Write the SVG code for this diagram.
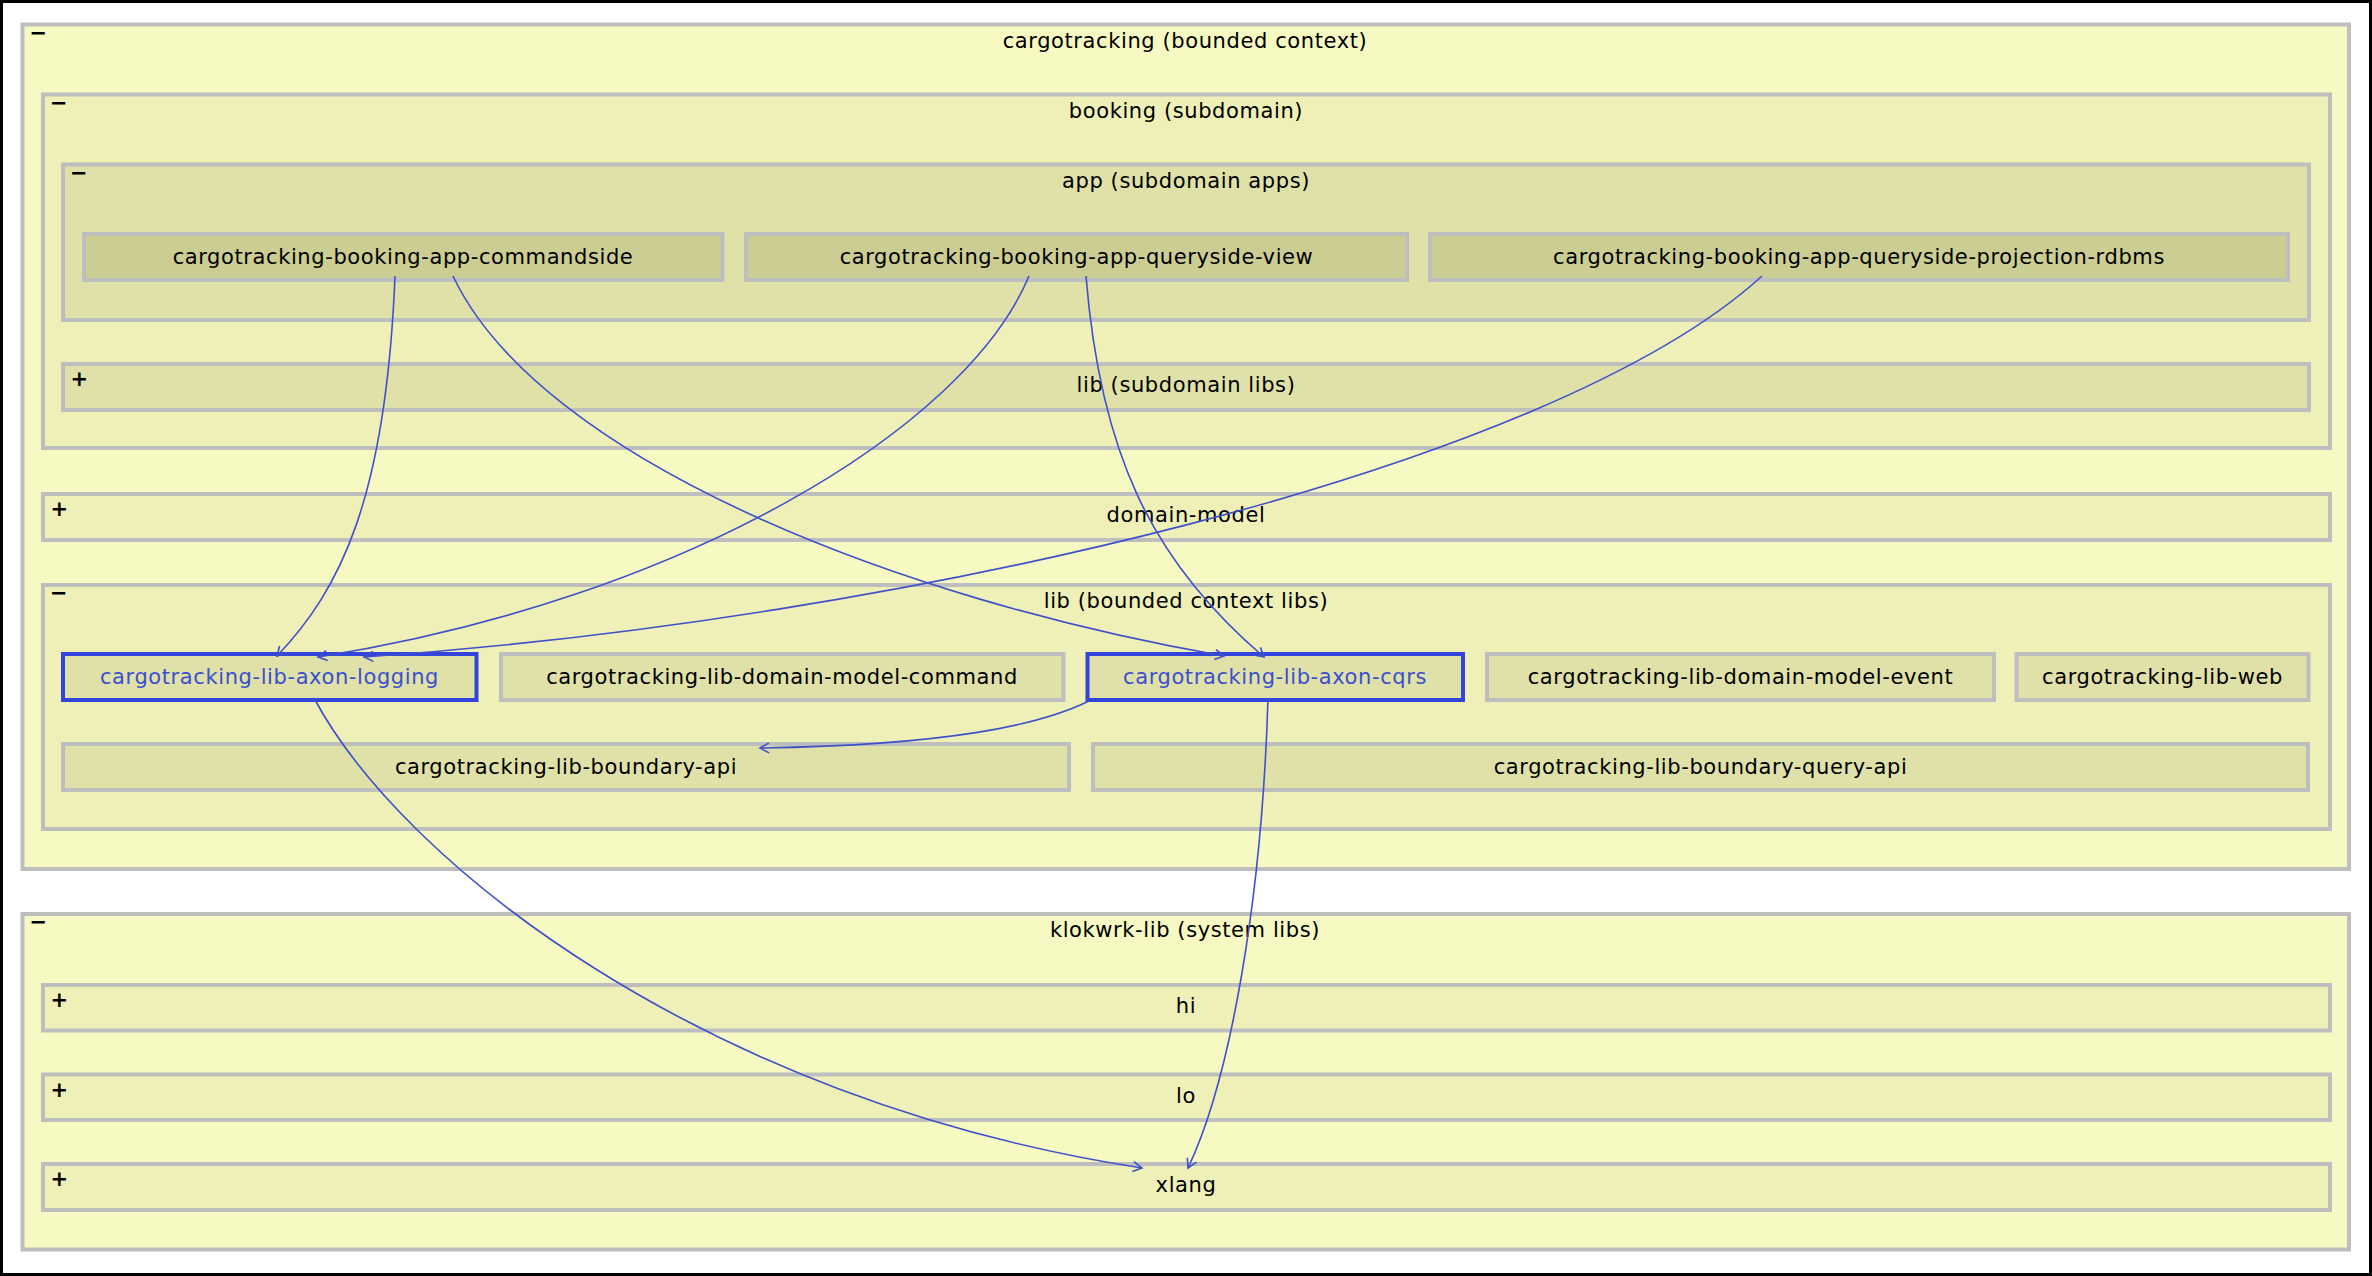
<svg xmlns="http://www.w3.org/2000/svg" width="2372" height="1276" viewBox="0 0 2372 1276">
<defs>
<style>
.box{stroke:#BEBEBE;stroke-width:4}
.l0{fill:#F7F9C2}
.l1{fill:#EEF0B8}
.l2{fill:#DFE1A8}
.l3{fill:#CBCD93}
.hl{fill:#DFE1A8;stroke:#3344DD;stroke-width:4}
text{font-family:"DejaVu Sans","Liberation Sans",sans-serif;font-size:21px;fill:#000}
.lbl{text-anchor:middle;letter-spacing:0.6px}
.blue{fill:#3D4ECF}
.sign{font-size:21px;font-weight:bold}
.edge{fill:none;stroke:#3F51C8;stroke-width:1.6;marker-end:url(#arr)}
</style>
<marker id="arr" markerUnits="userSpaceOnUse" markerWidth="14" markerHeight="14" viewBox="-12 -7 14 14" refX="0" refY="0" orient="auto">
<path d="M-9,-5 L0,0 L-9,5" fill="none" stroke="#3F51C8" stroke-width="1.6"/>
</marker>
</defs>
<rect x="0" y="0" width="2372" height="1276" fill="#FFFFFF"/>
<rect x="1.5" y="1.5" width="2369" height="1273" fill="none" stroke="#000" stroke-width="3"/>

<g id="cargotracking">
<rect class="box l0" x="22.5" y="24.5" width="2326.5" height="844.5"/>
<text class="sign" x="29.5" y="39.5">−</text>
<text class="lbl" x="1185" y="47.5">cargotracking (bounded context)</text>
</g>

<g id="booking">
<rect class="box l1" x="43" y="94.5" width="2287" height="353.5"/>
<text class="sign" x="50" y="109.5">−</text>
<text class="lbl" x="1186" y="117.5">booking (subdomain)</text>
</g>

<g id="booking-app">
<rect class="box l2" x="63" y="164.5" width="2246" height="155.5"/>
<text class="sign" x="70" y="179.5">−</text>
<text class="lbl" x="1186" y="187.5">app (subdomain apps)</text>
</g>

<g id="cargotracking-booking-app-commandside">
<rect class="box l3" x="84" y="234" width="638.5" height="46"/>
<text class="lbl" x="403" y="264">cargotracking-booking-app-commandside</text>
</g>

<g id="cargotracking-booking-app-queryside-view">
<rect class="box l3" x="746" y="234" width="661" height="46"/>
<text class="lbl" x="1076.5" y="264">cargotracking-booking-app-queryside-view</text>
</g>

<g id="cargotracking-booking-app-queryside-projection-rdbms">
<rect class="box l3" x="1430" y="234" width="858" height="46"/>
<text class="lbl" x="1859" y="264">cargotracking-booking-app-queryside-projection-rdbms</text>
</g>

<g id="booking-lib">
<rect class="box l2" x="63" y="364" width="2246" height="46"/>
<text class="sign" x="70.5" y="386">+</text>
<text class="lbl" x="1186" y="392">lib (subdomain libs)</text>
</g>

<g id="domain-model">
<rect class="box l1" x="43" y="494" width="2287" height="46"/>
<text class="sign" x="50.5" y="516">+</text>
<text class="lbl" x="1186" y="522">domain-model</text>
</g>

<g id="cargotracking-lib">
<rect class="box l1" x="43" y="585" width="2287" height="244"/>
<text class="sign" x="50" y="600">−</text>
<text class="lbl" x="1186" y="608">lib (bounded context libs)</text>
</g>

<g id="cargotracking-lib-axon-logging">
<rect class="hl" x="63" y="654" width="413.5" height="46"/>
<text class="lbl blue" x="269.5" y="684">cargotracking-lib-axon-logging</text>
</g>

<g id="cargotracking-lib-domain-model-command">
<rect class="box l2" x="501" y="654" width="562.5" height="46"/>
<text class="lbl" x="782" y="684">cargotracking-lib-domain-model-command</text>
</g>

<g id="cargotracking-lib-axon-cqrs">
<rect class="hl" x="1087.5" y="654" width="375.5" height="46"/>
<text class="lbl blue" x="1275" y="684">cargotracking-lib-axon-cqrs</text>
</g>

<g id="cargotracking-lib-domain-model-event">
<rect class="box l2" x="1487" y="654" width="507" height="46"/>
<text class="lbl" x="1740.5" y="684">cargotracking-lib-domain-model-event</text>
</g>

<g id="cargotracking-lib-web">
<rect class="box l2" x="2016.5" y="654" width="292" height="46"/>
<text class="lbl" x="2162.5" y="684">cargotracking-lib-web</text>
</g>

<g id="cargotracking-lib-boundary-api">
<rect class="box l2" x="63" y="744" width="1006" height="46"/>
<text class="lbl" x="566" y="774">cargotracking-lib-boundary-api</text>
</g>

<g id="cargotracking-lib-boundary-query-api">
<rect class="box l2" x="1093" y="744" width="1215" height="46"/>
<text class="lbl" x="1700.5" y="774">cargotracking-lib-boundary-query-api</text>
</g>

<g id="klokwrk-lib">
<rect class="box l0" x="22.5" y="914" width="2326.5" height="335.5"/>
<text class="sign" x="29.5" y="929">−</text>
<text class="lbl" x="1185" y="937">klokwrk-lib (system libs)</text>
</g>

<g id="klokwrk-lib-hi">
<rect class="box l1" x="43" y="985" width="2287" height="45.5"/>
<text class="sign" x="50.5" y="1007">+</text>
<text class="lbl" x="1186" y="1013">hi</text>
</g>

<g id="klokwrk-lib-lo">
<rect class="box l1" x="43" y="1074.5" width="2287" height="45.5"/>
<text class="sign" x="50.5" y="1096.5">+</text>
<text class="lbl" x="1186" y="1102.5">lo</text>
</g>

<g id="klokwrk-lib-xlang">
<rect class="box l1" x="43" y="1164" width="2287" height="46"/>
<text class="sign" x="50.5" y="1186">+</text>
<text class="lbl" x="1186" y="1192">xlang</text>
</g>

<g id="connectors">
<path class="edge" d="M395,276 C386,499 340,590 277,656"/>
<path class="edge" d="M453,276 C540,460 900,600 1224,656"/>
<path class="edge" d="M1029,276 C965,430 680,600 318,657"/>
<path class="edge" d="M1762,276 C1550,470 900,620 364,657"/>
<path class="edge" d="M1086,276 C1100,450 1150,560 1264,657"/>
<path class="edge" d="M1089,701 C1040,725 950,745 760,748"/>
<path class="edge" d="M314,698 C400,860 700,1100 1142,1168"/>
<path class="edge" d="M1268,698 C1262,900 1230,1080 1188,1168"/>
</g>
</svg>
